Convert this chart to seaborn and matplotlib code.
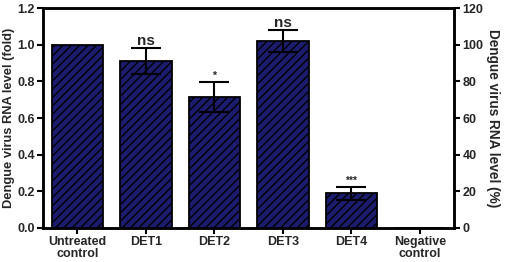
import numpy as np
import pandas as pd
import matplotlib
matplotlib.use("Agg")
import matplotlib.pyplot as plt
import seaborn as sns

categories = ["Untreated\ncontrol", "DET1", "DET2", "DET3", "DET4", "Negative\ncontrol"]
rna_fold = [1.0, 0.91, 0.715, 1.02, 0.19, 0.0]
rna_err = [0.0, 0.07, 0.082, 0.058, 0.035, 0.0]
signif = ["", "ns", "*", "ns", "***", ""]

sns.set_style("ticks")
plt.rcParams["font.family"] = ["Liberation Sans", "DejaVu Sans"]
plt.rcParams["font.weight"] = "bold"
plt.rcParams["hatch.color"] = "black"
plt.rcParams["hatch.linewidth"] = 1.0

df = pd.DataFrame({"group": categories, "fold": rna_fold})

fig, ax = plt.subplots(figsize=(5.09, 2.62), dpi=100)
fig.subplots_adjust(left=0.085, right=0.892, bottom=0.13, top=0.969)

sns.barplot(data=df, x="group", y="fold", color="#1c1c6e", saturation=1,
            width=0.75, edgecolor="black", linewidth=1.3, hatch="////", ax=ax)

x = np.arange(len(categories))
mask = np.array(rna_err) > 0
ax.errorbar(x[mask], np.array(rna_fold)[mask], yerr=np.array(rna_err)[mask],
            fmt="none", ecolor="black", elinewidth=1.5, capsize=11, capthick=1.5)

for xi, v, e, s in zip(x, rna_fold, rna_err, signif):
    if not s:
        continue
    if s.startswith("*"):
        ax.text(xi, v + e + 0.005, s, ha="center", va="bottom", fontsize=7.5, fontweight="bold")
    else:
        ax.text(xi, v + e, s, ha="center", va="bottom", fontsize=11, fontweight="bold")

ax.set_xlim(-0.5, 5.5)
ax.set_ylim(0, 1.2)
ax.set_yticks(np.arange(0, 1.21, 0.2))
ax.yaxis.set_major_formatter(matplotlib.ticker.FormatStrFormatter("%.1f"))
ax.set_xlabel("")
ax.set_ylabel("Dengue virus RNA level (fold)", fontsize=9.3, fontweight="bold", labelpad=2)
ax.tick_params(axis="both", labelsize=9, width=1.5, length=4, color="black", direction="out", pad=2)
for lab in ax.get_xticklabels() + ax.get_yticklabels():
    lab.set_fontweight("bold")
    lab.set_linespacing(1.0)

for sp in ax.spines.values():
    sp.set_visible(True)
    sp.set_linewidth(1.8)
    sp.set_color("black")

ax2 = ax.twinx()
ax2.set_ylim(0, 120)
ax2.set_yticks(np.arange(0, 121, 20))
ax2.set_ylabel("Dengue virus RNA level (%)", fontsize=9.8, fontweight="bold",
               rotation=270, labelpad=12)
ax2.tick_params(axis="y", labelsize=9, width=1.5, length=4, color="black", pad=2)
for lab in ax2.get_yticklabels():
    lab.set_fontweight("bold")
for sp in ax2.spines.values():
    sp.set_linewidth(1.8)
    sp.set_color("black")

fig.savefig("out.png", dpi=100)
